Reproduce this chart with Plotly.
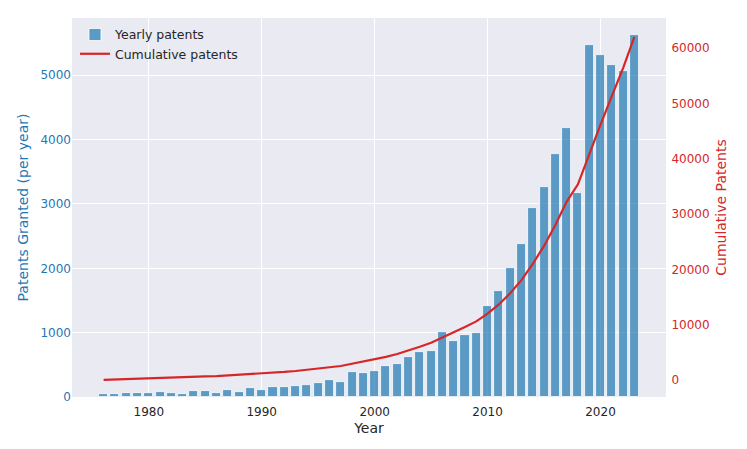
import numpy as np
import plotly.graph_objects as go

years = list(range(1976, 2024))
yearly = [42, 52, 57, 62, 62, 83, 62, 52, 88, 88, 70,
          109, 83, 135, 114, 151, 151, 171, 187, 218, 265, 229,
          395, 379, 400, 488, 509, 623, 696, 717,
          1018, 872, 961, 1002, 1418, 1651, 2005, 2379,
          2935, 3260, 3780, 4180, 3170, 5470, 5320, 5160, 5060, 5630]
cumulative = list(np.cumsum(yearly))

left_ticks = [0, 1000, 2000, 3000, 4000, 5000]
right_ticks = [0, 10000, 20000, 30000, 40000, 50000, 60000]
x_ticks = [1980, 1990, 2000, 2010, 2020]

BLUE = "#1f77b4"
RED = "#d62728"
BAR = "rgba(31,119,180,0.7)"
FONT = "DejaVu Sans"
NOTICK = "rgba(0,0,0,0)"

fig = go.Figure()
fig.add_trace(go.Bar(
    x=years, y=yearly, name="Yearly patents", width=0.8,
    marker=dict(color=BAR, line=dict(color="white", width=0.8)),
    yaxis="y",
))
fig.add_trace(go.Scatter(
    x=years, y=cumulative, name="Cumulative patents", mode="lines",
    line=dict(color=RED, width=2.2), yaxis="y2",
))

fig.update_layout(
    width=747, height=449,
    margin=dict(l=64, r=89, t=10, b=60),
    paper_bgcolor="white", plot_bgcolor="#EAEAF2",
    font=dict(family=FONT, size=12, color="#262626"),
    showlegend=True,
    legend=dict(x=0.005, y=0.995, xanchor="left", yanchor="top",
                bgcolor="rgba(0,0,0,0)", borderwidth=0,
                font=dict(size=12.5, color="#262626"), tracegroupgap=0,
                itemwidth=30),
    xaxis=dict(range=[1973.2, 2025.8], tickvals=x_ticks, showgrid=True,
               gridcolor="white", gridwidth=1.2, zeroline=False, showline=False,
               ticks="outside", ticklen=4, tickcolor=NOTICK,
               automargin=False, tickfont=dict(size=12, color="#262626"),
               title=dict(text="Year", font=dict(size=14, color="#262626"), standoff=4)),
    yaxis=dict(range=[0, 5890], tickvals=left_ticks, showgrid=True,
               gridcolor="white", gridwidth=1.2, zeroline=False, showline=False,
               ticks="", automargin=False, tickfont=dict(size=12, color=BLUE),
               title=dict(text="Patents Granted (per year)", font=dict(size=14, color=BLUE), standoff=8)),
    yaxis2=dict(range=[-3070, 65430], tickvals=right_ticks, tickformat="d",
                overlaying="y", side="right", automargin=False,
                showgrid=False, zeroline=False, showline=False,
                ticks="outside", ticklen=2, tickcolor=NOTICK,
                tickfont=dict(size=12, color=RED),
                title=dict(text="Cumulative Patents", font=dict(size=14, color=RED), standoff=7)),
    bargap=0,
)

fig.write_html("out.html")
